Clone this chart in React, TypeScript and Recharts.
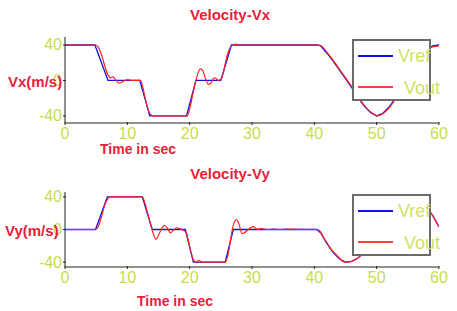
import { LineChart, Line, XAxis, YAxis } from 'recharts'

// time stamps (s) and velocities (m/s)
const xTicks = [0, 10, 20, 30, 40, 50, 60]
const yTicks = [-40, 0, 40]

const vxRefTime = [0, 4.8, 6.9, 12.0, 13.6, 19.5, 21.0, 25.0, 26.7, 40.5, 41, 42, 43, 44, 45, 46, 47, 48, 49, 50, 51, 52, 53, 54, 55, 56, 57, 58, 59, 60]
const vxRefValues = [40, 40, 0, 0, -40, -40, 0, 0, 40, 40, 39, 31, 22, 12, 2, -8, -19, -29, -36, -40, -37, -30, -20, -8, 5, 17, 28, 35, 39, 40]

const vxOutTime = [0, 4.9, 5.4, 5.9, 6.4, 6.9, 7.3, 7.7, 8.2, 8.6, 9.1, 9.6, 10.1, 10.6, 11, 12.1, 12.5, 12.9, 13.3, 13.7, 14.1, 19.6, 20, 20.4, 20.8, 21.2, 21.7, 22.1, 22.6, 23, 23.4, 23.8, 24.1, 24.6, 25.1, 25.5, 25.9, 26.3, 26.7, 27.1, 27.4, 27.9, 40.6, 41.1, 42.1, 43.1, 44.1, 45.1, 46.1, 47.1, 48.1, 49.1, 50.1, 51.1, 52.1, 53.1, 54.1, 55.1, 56.1, 57.1, 58.1, 59.1, 60]
const vxOutValues = [40, 40, 37, 28, 16, 6, 3, 4, 0, -3, -2, 0, 1, 0, 0, 0, -8, -21, -32, -38, -40, -40, -32, -19, -6, 5, 13, 11, 1, -4.5, -3, 2, 3, 0, 2, 12, 25, 34, 39, 40, 41, 40, 40, 39, 31, 22, 12, 2, -8, -19, -29, -36, -40, -37, -30, -20, -8, 5, 17, 28, 35, 38, 39]

const vyRefTime = [0, 4.9, 6.8, 12.4, 14.0, 19.3, 20.6, 25.7, 27.0, 40.4, 41, 42, 43, 44, 45, 46, 47, 48, 49, 50, 51, 52, 53, 54, 55, 56, 57, 58, 59, 60]
const vyRefValues = [0, 0, 40, 40, 0, 0, -40, -40, 0, 0, -4, -17, -28, -36, -40, -39, -35, -28, -19, -9, 2, 13, 23, 31, 36, 37, 34, 27, 17, 3]

const vyOutTime = [0, 4.9, 5.3, 5.8, 6.3, 6.8, 7.3, 12.4, 12.8, 13.3, 13.8, 14.3, 14.6, 15.0, 15.5, 15.9, 16.4, 16.9, 17.4, 17.9, 18.4, 19.0, 19.4, 19.8, 20.2, 20.6, 21.0, 21.5, 22.0, 25.7, 26.1, 26.5, 26.9, 27.5, 27.9, 28.4, 28.8, 29.4, 30.2, 30.8, 31.5, 32.5, 33.5, 34.5, 35.5, 40.5, 41, 41.5, 42, 42.5, 43, 43.5, 44, 44.5, 45, 45.5, 46, 47, 48, 49, 50, 51, 52, 53, 54, 55, 56, 57, 58, 59, 60]
const vyOutValues = [0, 0, 3, 14, 28, 37, 40, 40, 33, 19, 4, -8, -12, -7, 1, 5, 2, -4, -1, 2, 1, -1, -3, -14, -28, -37, -40, -38, -40, -40, -33, -16, 2, 12, 7, -5, -4, 0, 3.5, 0.5, 1, 0, 0.5, 0, 0.5, 0, -3, -10, -16, -22, -27, -31, -35, -39, -40, -40, -39, -35, -28, -19, -9, 2, 13, 23, 31, 36, 37, 34, 27, 17, 3]

const toPoints = (t: number[], v: number[]) => t.map((time, i) => ({ t: time, v: v[i] }))

const TICK_COLOR = '#c9dc48'
const TITLE_COLOR = '#e8213b'
const FONT = '"Liberation Sans", sans-serif'

const BottomTick = (props: any) => {
  const { x, y, payload } = props
  return (
    <g>
      <line x1={x} y1={y} x2={x} y2={y - 3} stroke="#222" />
      <text x={x} y={y + 8} textAnchor="middle" dominantBaseline="central" fill={TICK_COLOR} fontSize={16} fontFamily={FONT}>
        {payload.value}
      </text>
    </g>
  )
}

const LeftTick = (props: any) => {
  const { x, y, payload } = props
  return (
    <g>
      <line x1={x} y1={y} x2={x + 3} y2={y} stroke="#222" />
      <text x={x - 1} y={y} textAnchor="end" dominantBaseline="central" fill={TICK_COLOR} fontSize={16} fontFamily={FONT}>
        {payload.value}
      </text>
    </g>
  )
}

const TopTick = (props: any) => {
  const { x, y } = props
  return <line x1={x} y1={y} x2={x} y2={y + 3} stroke="#222" />
}

const RightTick = (props: any) => {
  const { x, y } = props
  return <line x1={x} y1={y} x2={x - 3} y2={y} stroke="#222" />
}

interface PlotProps {
  top: number
  height: number
  xAxisHeight: number
  domain: [number, number]
  title: string
  titleY: number
  yLabel: string
  yLabelX: number
  yLabelY: number
  xLabelX: number
  xLabelY: number
  legendTop: number
  legendHeight: number
  refData: { t: number; v: number }[]
  outData: { t: number; v: number }[]
}

function VelocityPlot(p: PlotProps) {
  const labelStyle: React.CSSProperties = {
    position: 'absolute',
    color: TITLE_COLOR,
    fontFamily: FONT,
    fontWeight: 700,
    whiteSpace: 'nowrap',
    lineHeight: 1,
  }
  const legendText: React.CSSProperties = {
    position: 'absolute',
    color: '#d2df62',
    fontFamily: FONT,
    fontSize: 18,
    lineHeight: 1,
  }
  return (
    <>
      <div style={{ position: 'absolute', left: 0, top: p.top }}>
        <LineChart width={457} height={p.height} margin={{ top: 37, right: 18, bottom: 0, left: 0 }}>
          <XAxis dataKey="t" type="number" domain={[0, 60]} ticks={xTicks} height={p.xAxisHeight} tickSize={0} tickLine={false} axisLine={{ stroke: '#222' }} tick={<BottomTick />} allowDataOverflow />
          <XAxis xAxisId="top" orientation="top" dataKey="t" type="number" domain={[0, 60]} ticks={xTicks} height={0} tickSize={0} tickLine={false} axisLine={{ stroke: '#222' }} tick={<TopTick />} />
          <YAxis type="number" domain={p.domain} ticks={yTicks} width={65} tickSize={0} tickLine={false} axisLine={{ stroke: '#222' }} tick={<LeftTick />} allowDataOverflow />
          <YAxis yAxisId="right" orientation="right" type="number" domain={p.domain} ticks={yTicks} width={0} tickSize={0} tickLine={false} axisLine={{ stroke: '#222' }} tick={<RightTick />} />
          <Line data={p.refData} dataKey="v" type="linear" stroke="#1010e8" strokeWidth={1.3} dot={false} isAnimationActive={false} />
          <Line data={p.outData} dataKey="v" type="monotone" stroke="#ff2222" strokeWidth={1.2} dot={false} isAnimationActive={false} />
        </LineChart>
      </div>
      <div style={{ ...labelStyle, fontSize: 15, left: 0, width: 457, textAlign: 'center', top: p.titleY - 8, paddingLeft: 3, boxSizing: 'border-box' }}>{p.title}</div>
      <div style={{ ...labelStyle, fontSize: 15, left: p.yLabelX, top: p.yLabelY - 8 }}>{p.yLabel}</div>
      <div style={{ ...labelStyle, fontSize: 14, left: p.xLabelX, top: p.xLabelY - 6 }}>Time in sec</div>
      <div style={{ position: 'absolute', left: 352, top: p.legendTop, width: 75, height: p.legendHeight - 4, border: '2px solid #6b6b6b', background: '#fff' }}>
        <div style={{ position: 'absolute', left: 4, top: 14, width: 35, height: 2, background: '#1010e8' }} />
        <div style={{ ...legendText, left: 44, top: 6 }}>Vref</div>
        <div style={{ position: 'absolute', left: 4, top: 45, width: 35, height: 2, background: '#ff4040' }} />
        <div style={{ ...legendText, left: 50, top: 38 }}>Vout</div>
      </div>
    </>
  )
}

export default function App() {
  return (
    <div style={{ position: 'absolute', left: 0, top: 0, width: 457, height: 311, background: '#fff', overflow: 'hidden' }}>
      <VelocityPlot
        top={0}
        height={155}
        xAxisHeight={32}
        domain={[-48, 49]}
        title="Velocity-Vx"
        titleY={15}
        yLabel="Vx(m/s)"
        yLabelX={8}
        yLabelY={82}
        xLabelX={100}
        xLabelY={148}
        legendTop={39}
        legendHeight={62}
        refData={toPoints(vxRefTime, vxRefValues)}
        outData={toPoints(vxOutTime, vxOutValues)}
      />
      <VelocityPlot
        top={155}
        height={156}
        xAxisHeight={44}
        domain={[-46, 46]}
        title="Velocity-Vy"
        titleY={174}
        yLabel="Vy(m/s)"
        yLabelX={5}
        yLabelY={231}
        xLabelX={137}
        xLabelY={300}
        legendTop={194}
        legendHeight={62}
        refData={toPoints(vyRefTime, vyRefValues)}
        outData={toPoints(vyOutTime, vyOutValues)}
      />
    </div>
  )
}
